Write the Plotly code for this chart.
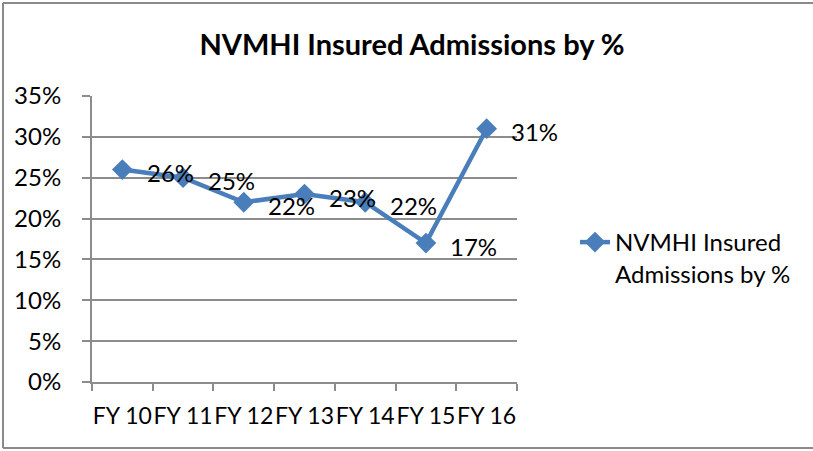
import plotly.graph_objects as go

categories = ["FY 10", "FY 11", "FY 12", "FY 13", "FY 14", "FY 15", "FY 16"]
values = [26, 25, 22, 23, 22, 17, 31]
series_name = "NVMHI Insured Admissions by %"
y_ticks = [0, 5, 10, 15, 20, 25, 30, 35]
y_tick_labels = [f"{v}%" for v in y_ticks]
labels = [f"{v}%" for v in values]

FONT = "Lato"
BLUE = "#4A7EBB"
GRID = "#8C8C8C"

W, H = 813, 451
L, R, T, B = 92, 296, 96, 69

fig = go.Figure()
fig.add_trace(go.Scatter(
    x=categories, y=values, mode="lines+markers",
    name="NVMHI Insured<br>Admissions by %",
    line=dict(color=BLUE, width=4.5),
    marker=dict(symbol="diamond", size=16, color=BLUE),
))

for c, v, t in zip(categories, values, labels):
    fig.add_annotation(x=c, y=v, text=t, showarrow=False, xanchor="center", yanchor="middle",
                       xshift=48, yshift=-3, font=dict(family=FONT, size=24, color="#000"))

pw = W - L - R
ph = H - T - B
def px_x(p):
    return (p - L) / pw
def px_y(p):
    return (H - B - p) / ph

# outer chart frame (left, top, bottom edges; right edge lies outside the picture)
frame = dict(type="line", xref="paper", yref="paper", line=dict(color="#8A8A8A", width=2))
fig.add_shape(**frame, x0=px_x(3), x1=px_x(3), y0=px_y(448), y1=px_y(3))
fig.add_shape(**frame, x0=px_x(3), x1=px_x(820), y0=px_y(3), y1=px_y(3))
fig.add_shape(**frame, x0=px_x(3), x1=px_x(820), y0=px_y(448), y1=px_y(448))

fig.update_layout(
    width=W, height=H,
    margin=dict(l=L, r=R, t=T, b=B, autoexpand=False),
    paper_bgcolor="white", plot_bgcolor="white",
    title=dict(text="<b>NVMHI Insured Admissions by %</b>", x=412 / W, xanchor="center",
               y=1 - 45 / H, yanchor="middle", font=dict(family=FONT, size=29, color="#000")),
    showlegend=True,
    legend=dict(x=px_x(575), xanchor="left", y=px_y(258), yanchor="middle",
                valign="top", font=dict(family=FONT, size=24, color="#000"),
                bgcolor="rgba(0,0,0,0)"),
    xaxis=dict(type="category", tickson="boundaries", showgrid=False, automargin=False,
               showline=True, linecolor=GRID, linewidth=2, tickangle=0,
               ticks="outside", ticklen=7, tickwidth=2, tickcolor=GRID,
               ticklabelstandoff=12,
               tickfont=dict(family=FONT, size=23, color="#000"), range=[-0.5, 6.5]),
    yaxis=dict(range=[0, 35], tickvals=y_ticks, ticktext=y_tick_labels, automargin=False,
               showgrid=True, gridcolor=GRID, gridwidth=2,
               showline=True, linecolor=GRID, linewidth=2,
               ticks="outside", ticklen=8, tickwidth=2, tickcolor=GRID,
               ticklabelstandoff=16, zeroline=False,
               tickfont=dict(family=FONT, size=24, color="#000")),
)

fig.write_html("out.html", config={"displayModeBar": False},
               post_script="document.body.style.margin='0';document.body.style.overflow='hidden';")
